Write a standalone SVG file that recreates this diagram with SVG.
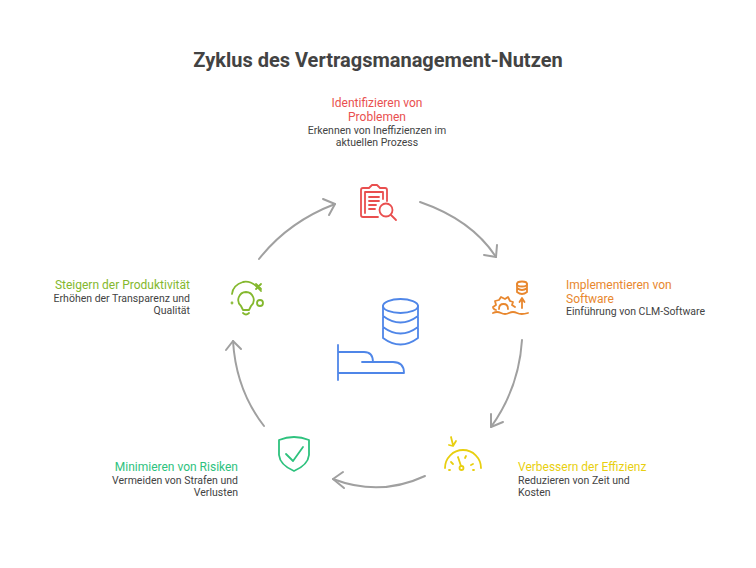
<svg xmlns="http://www.w3.org/2000/svg" width="756" height="568" viewBox="0 0 756 568">
<style>
text{font-family:Roboto,"Liberation Sans",sans-serif}
.t{font-size:20px;font-weight:700;fill:#434343}
.h{font-size:12px}
.d{font-size:10.500px;fill:#434343}
.c{fill:none;stroke:#a0a0a0;stroke-width:2;stroke-linecap:round;stroke-linejoin:round}
.i{fill:none;stroke-width:1.800;stroke-linecap:round;stroke-linejoin:round}
.m{text-anchor:middle}.e{text-anchor:end}
</style>
<rect width="756" height="568" fill="#fff"/>
<text class="t m" x="378" y="67">Zyklus des Vertragsmanagement-Nutzen</text>
<g id="connectors">
<path class="c" d="M420 202Q472 220 496 257"/><path class="c" d="M484 255L496 257L497 245"/>
<path class="c" d="M522 340Q519 388 491 427"/><path class="c" d="M491 414L491 427L503 422"/>
<path class="c" d="M425 476Q380 497 333 479"/><path class="c" d="M343 472L333 479L344 488"/>
<path class="c" d="M264 426Q236 390 233 341"/><path class="c" d="M226 350L233 341L241 349"/>
<path class="c" d="M259 259Q288 222 335 204"/><path class="c" d="M323 199L335 204L329 215"/>
</g>
<g id="node-problem">
<text class="h m" fill="#e94f4f" x="377" y="107">Identifizieren von</text>
<text class="h m" fill="#e94f4f" x="377" y="121">Problemen</text>
<text class="d m" x="377" y="134">Erkennen von Ineffizienzen im</text>
<text class="d m" x="377" y="146">aktuellen Prozess</text>
<g class="i" stroke="#e94f4f"><path d="M378 217H363Q361 217 361 215V190Q361 188 363 188H369L372 185H377L380 188H385Q387 188 387 190V201"/><path d="M365 213V192H383V199"/><path d="M369 197H379M369 201H379M369 205H376M369 209H375"/><circle cx="386" cy="210" r="6.500"/><path d="M391 215L396 220"/></g>
</g>
<g id="node-software">
<text class="h" fill="#e8872e" x="566" y="289">Implementieren von</text>
<text class="h" fill="#e8872e" x="566" y="303">Software</text>
<text class="d" x="566" y="315">Einführung von CLM-Software</text>
<g class="i" stroke="#e8872e"><ellipse cx="522" cy="284" rx="5" ry="2.500"/><path d="M517 284V292Q522 296 527 292V284M517 288Q522 292 527 288"/><path d="M522 308V299M519.500 302L522 298L524.500 302"/><path d="M496 310Q493 309 493 307L496 305L495 301L499 300L501 297L505 299L508 297L510 301L513 302L512 305L515 307"/><path d="M499 309Q499 304 503.500 304Q508 304 508 309"/><path d="M493 313Q497 311 501 313T509 313T517 313T528 313"/></g>
</g>
<g id="node-efficiency">
<text class="h" fill="#e8cf10" x="518" y="471">Verbessern der Effizienz</text>
<text class="d" x="518" y="484">Reduzieren von Zeit und</text>
<text class="d" x="518" y="496">Kosten</text>
<g class="i" stroke="#e8cf10"><path d="M445 468A18 18 0 0 1 481 468"/><path d="M451 437L453 445M449 445L453 446L456 441"/><path d="M458 457L461 466"/><circle cx="461.500" cy="468" r="2"/><path d="M451 462L453 464M466 456L465 458M473 464L471 465M449 470H450M473 470H474"/></g>
</g>
<g id="node-risk">
<text class="h e" fill="#2ec27e" x="238" y="471">Minimieren von Risiken</text>
<text class="d e" x="238" y="484">Vermeiden von Strafen und</text>
<text class="d e" x="238" y="496">Verlusten</text>
<g class="i" stroke="#2ec27e"><path d="M279 440Q294 434 309 440V455Q308 465 294 471Q280 465 279 455Z"/><path d="M286 454L293 461L303 447"/></g>
</g>
<g id="node-productivity">
<text class="h e" fill="#84b82e" x="190" y="289">Steigern der Produktivität</text>
<text class="d e" x="190" y="302">Erhöhen der Transparenz und</text>
<text class="d e" x="190" y="314">Qualität</text>
<g class="i" stroke="#84b82e"><path d="M232 294Q233 285 243 282Q252 280 261 291"/><path d="M256 284L261 289M261 284L256 289"/><path d="M246 292A8 8 0 0 0 241 306L243 310H249L251 306A8 8 0 0 0 246 292Z"/><path d="M243 313Q246 316 249 313"/><circle cx="260" cy="303" r="3"/><circle cx="232" cy="303" r="0.500"/></g>
</g>
<g id="center-icon" class="i" stroke="#4f86e8">
<ellipse cx="400.500" cy="306" rx="17.500" ry="7"/>
<path d="M383 306V338Q400.500 351 418 338V306M383 316Q400.500 329 418 316M383 327Q400.500 340 418 327"/>
<path d="M338 345V380M338 352H364Q373 352 373 362M362 362H393Q404 362 404 373H338"/>
</g>
</svg>
